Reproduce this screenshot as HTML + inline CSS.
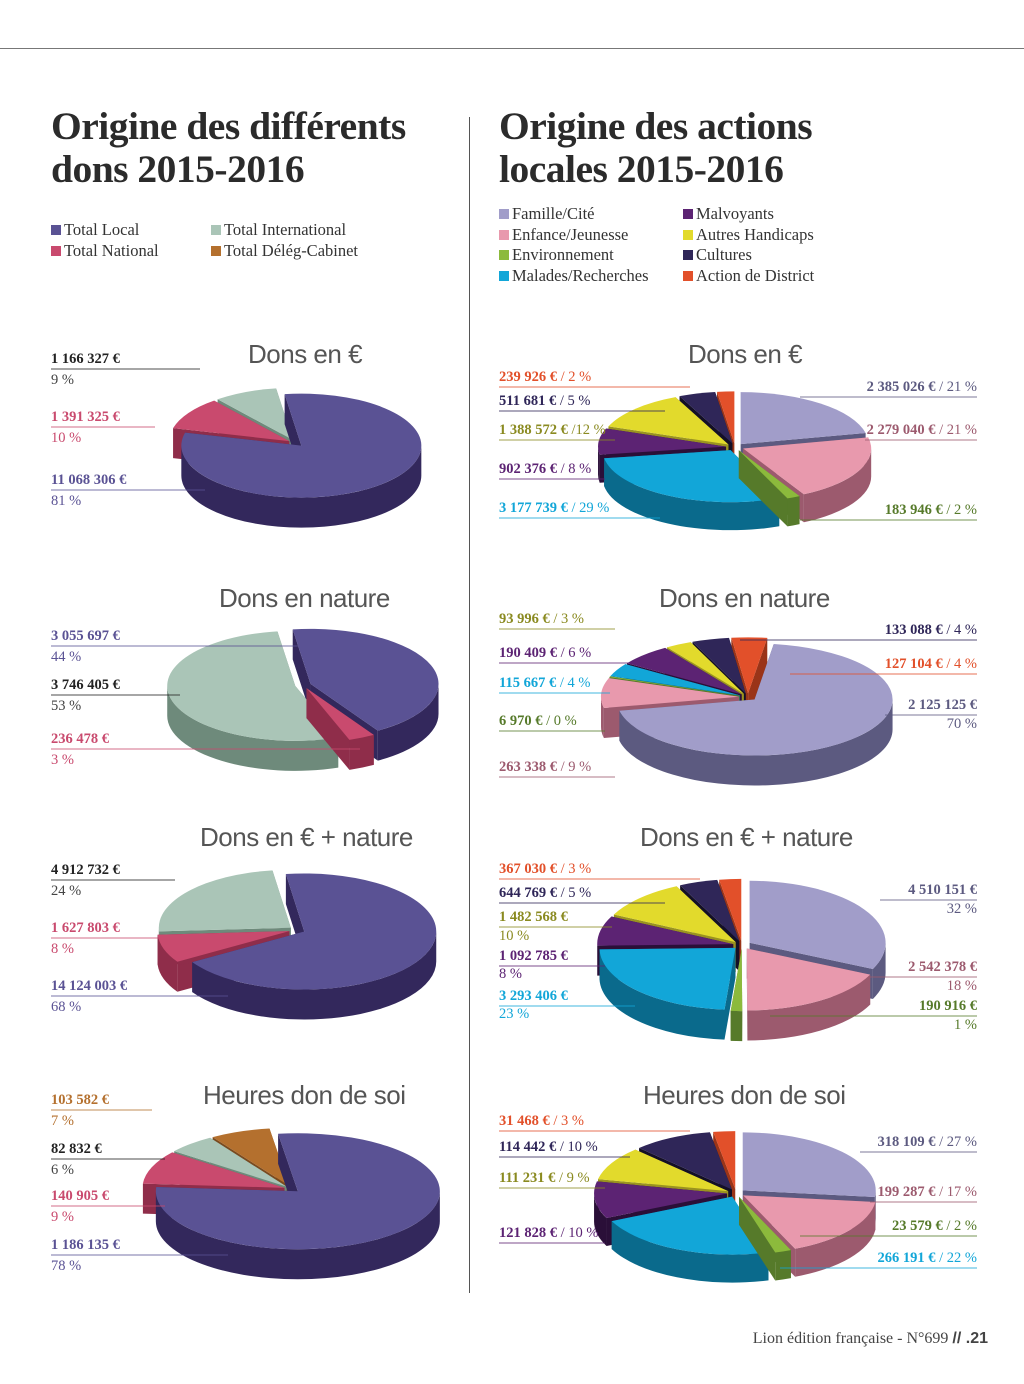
<!DOCTYPE html>
<html><head><meta charset="utf-8">
<style>
body{margin:0;background:#fff;}
#page{position:relative;width:1024px;height:1384px;overflow:hidden;background:#fff;font-family:"Liberation Serif",serif;}
.title{position:absolute;font-family:"Liberation Serif",serif;font-weight:bold;font-size:39.5px;line-height:43px;color:#2b2b2b;letter-spacing:-0.5px;white-space:nowrap;}
.ctitle{position:absolute;font-family:"Liberation Sans",sans-serif;font-size:26px;color:#555;white-space:nowrap;letter-spacing:-0.5px;}
.leg{position:absolute;font-size:16.5px;color:#333;white-space:nowrap;}
.leg i{display:inline-block;width:10px;height:10px;margin-right:3px;}
.lab{position:absolute;font-size:14.5px;white-space:nowrap;line-height:15px;}
.lab b{font-weight:bold;}
svg{position:absolute;left:0;top:0;}
</style></head>
<body>
<div id="page">
<div style="position:absolute;left:0;top:48px;width:1024px;height:1px;background:#777"></div>
<div style="position:absolute;left:469px;top:117px;width:1px;height:1176px;background:#555"></div>
<div class="title" style="left:51px;top:105px">Origine des différents<br>dons 2015-2016</div>
<div class="title" style="left:499px;top:105px">Origine des actions<br>locales 2015-2016</div>

<div class="leg" style="left:51px;top:220px"><i style="background:#5a5294"></i>Total Local</div>
<div class="leg" style="left:51px;top:241px"><i style="background:#c94a6e"></i>Total National</div>
<div class="leg" style="left:211px;top:220px"><i style="background:#aac5b7"></i>Total International</div>
<div class="leg" style="left:211px;top:241px"><i style="background:#b4702e"></i>Total Délég-Cabinet</div>

<div class="leg" style="left:499px;top:204px"><i style="background:#a19dc9"></i>Famille/Cité</div>
<div class="leg" style="left:499px;top:225px"><i style="background:#e899ad"></i>Enfance/Jeunesse</div>
<div class="leg" style="left:499px;top:245px"><i style="background:#8cba3c"></i>Environnement</div>
<div class="leg" style="left:499px;top:266px"><i style="background:#12a6d8"></i>Malades/Recherches</div>
<div class="leg" style="left:683px;top:204px"><i style="background:#5c2373"></i>Malvoyants</div>
<div class="leg" style="left:683px;top:225px"><i style="background:#e2da2c"></i>Autres Handicaps</div>
<div class="leg" style="left:683px;top:245px"><i style="background:#2f2658"></i>Cultures</div>
<div class="leg" style="left:683px;top:266px"><i style="background:#e2502a"></i>Action de District</div>

<div class="ctitle" style="left:248px;top:339px">Dons en €</div>
<div class="ctitle" style="left:219px;top:583px">Dons en nature</div>
<div class="ctitle" style="left:200px;top:822px">Dons en € + nature</div>
<div class="ctitle" style="left:203px;top:1080px">Heures don de soi</div>
<div class="ctitle" style="left:688px;top:339px">Dons en €</div>
<div class="ctitle" style="left:659px;top:583px">Dons en nature</div>
<div class="ctitle" style="left:640px;top:822px">Dons en € + nature</div>
<div class="ctitle" style="left:643px;top:1080px">Heures don de soi</div>

<svg id="pies" width="1024" height="1384"></svg>

<div style="position:absolute;right:36px;top:1330px;font-size:16px;color:#444;font-family:'Liberation Serif',serif">Lion édition française - N°699 <b style="font-family:'Liberation Sans',sans-serif">// .21</b></div>
</div>
<script>
// left-column categories: Local, National, International, Délég-Cabinet
const leftCats = ["Local","National","International","Deleg"];
const l1Values = [11068306, 1391325, 1166327, 0];
const l2Values = [3055697, 236478, 3746405, 0];
const l3Values = [14124003, 1627803, 4912732, 0];
const l4Values = [1186135, 140905, 82832, 103582];
// right-column categories (clockwise)
const rightCats = ["Famille","Enfance","Environnement","Malades","Malvoyants","Autres","Cultures","Action"];
const r1Values = [2385026, 2279040, 183946, 3177739, 902376, 1388572, 511681, 239926];
const r2Values = [2125125, 263338, 6970, 115667, 190409, 93996, 133088, 127104];
const r3Values = [4510151, 2542378, 190916, 3293406, 1092785, 1482568, 644769, 367030];
const r4Values = [318109, 199287, 23579, 266191, 121828, 111231, 114442, 31468];

const leftTop=["#5a5294","#c94a6e","#aac5b7","#b4702e"], leftSide=["#33285c","#8f2d4a","#6e8a7b","#7a4a1e"];
const rightTop=["#a19dc9","#e899ad","#8cba3c","#12a6d8","#5c2373","#e2da2c","#2f2658","#e2502a"];
const rightSide=["#5c5a80","#9c5a6e","#567a2a","#0a6a8c","#2a0f38","#9a9320","#141026","#9a3418"];

const NS="http://www.w3.org/2000/svg";
const svg=document.getElementById('pies');
function mk(tag,attrs){const e=document.createElementNS(NS,tag);for(const k in attrs)e.setAttribute(k,attrs[k]);return e;}

function pie(name,cats,vals,tops,sides,cx,cy,rx,ry,depth,start,explode){
  const g=mk('g',{});
  
  
  svg.appendChild(g);
  const total=vals.reduce((a,b)=>a+b,0);
  let a=start; const slices=[];
  vals.forEach((v,i)=>{ if(v<=0)return; const sw=v/total*360; slices.push({i,a0:a,a1:a+sw}); a+=sw; });
  slices.forEach(s=>{s.mid=(s.a0+s.a1)/2;});
  slices.sort((p,q)=>(-Math.cos(p.mid*Math.PI/180))-(-Math.cos(q.mid*Math.PI/180)));
  slices.forEach(s=>{
    const r=Math.PI/180, m=s.mid*r;
    const ox=cx+explode*Math.sin(m), oy=cy-explode*Math.cos(m)*ry/rx;
    const P=(ang,d)=>[ox+rx*Math.sin(ang*r), oy-ry*Math.cos(ang*r)+(d||0)];
    const sg=mk('g',{});
    
    
    g.appendChild(sg);
    [s.a0,s.a1].forEach(ang=>{
      const p=P(ang),q=P(ang,depth);
      sg.appendChild(mk('path',{d:`M${ox},${oy}L${p[0]},${p[1]}L${q[0]},${q[1]}L${ox},${oy+depth}Z`,fill:sides[s.i]}));
    });
    [[90,270],[450,630],[-270,-90]].forEach(([lo,hi])=>{
      const st=Math.max(lo,s.a0), en=Math.min(hi,s.a1);
      if(en-st<=0.01)return;
      const p1=P(st),p2=P(en),p3=P(en,depth),p4=P(st,depth);
      sg.appendChild(mk('path',{d:`M${p1[0]},${p1[1]}A${rx},${ry} 0 0 1 ${p2[0]},${p2[1]}L${p3[0]},${p3[1]}A${rx},${ry} 0 0 0 ${p4[0]},${p4[1]}Z`,fill:sides[s.i]}));
    });
    const p0=P(s.a0),p1=P(s.a1);
    const large=(s.a1-s.a0)>180?1:0;
    sg.appendChild(mk('path',{d:`M${ox},${oy}L${p0[0]},${p0[1]}A${rx},${ry} 0 ${large} 1 ${p1[0]},${p1[1]}Z`,fill:tops[s.i]}));
  });
}
pie('pie-l1',leftCats,l1Values,leftTop,leftSide,296,443,120,52,30,-8,8);
pie('pie-l2',leftCats,l2Values,leftTop,leftSide,303,685,128,55,30,-8,8);
pie('pie-l3',leftCats,l3Values,leftTop,leftSide,297,930,132,58,30,-8,8);
pie('pie-l4',leftCats,l4Values,leftTop,leftSide,292,1189,142,58,30,-8,8);
pie('pie-r1',rightCats,r1Values,rightTop,rightSide,735,447,128,52,28,0,9);
pie('pie-r2',rightCats,r2Values,rightTop,rightSide,748,697,138,56,30,8,9);
pie('pie-r3',rightCats,r3Values,rightTop,rightSide,742,945,136,62,30,0,9);
pie('pie-r4',rightCats,r4Values,rightTop,rightSide,736,1193,133,58,28,0,9);

const page=document.getElementById('page');
function lab(name,x,y,b,rest,color,lineTo,align){
  const d=document.createElement('div');
  d.className='lab';
  
  
  d.style.top=(y-12)+'px'; d.style.color=color;
  if(align==='r'){d.style.right=(1024-x)+'px';}else{d.style.left=x+'px';}
  d.innerHTML=(b?'<b>'+b+'</b>':'')+rest;
  page.appendChild(d);
  if(lineTo){
    svg.appendChild(mk('line',{x1:x,y1:y+5,x2:lineTo,y2:y+5,stroke:color,'stroke-width':1,opacity:0.8}));
  }
}
lab('label-l1-international',51,364,'1 166 327 €','','#222',200);lab('pct-l1-international',51,385,'','9 %','#444');
lab('label-l1-national',51,422,'1 391 325 €','','#c94a6e',155);lab('pct-l1-national',51,443,'','10 %','#c94a6e');
lab('label-l1-local',51,485,'11 068 306 €','','#5a5294',205);lab('pct-l1-local',51,506,'','81 %','#5a5294');
lab('label-l2-local',51,641,'3 055 697 €','','#5a5294',300);lab('pct-l2-local',51,662,'','44 %','#5a5294');
lab('label-l2-international',51,690,'3 746 405 €','','#222',180);lab('pct-l2-international',51,711,'','53 %','#444');
lab('label-l2-national',51,744,'236 478 €','','#c94a6e',360);lab('pct-l2-national',51,765,'','3 %','#c94a6e');
lab('label-l3-international',51,875,'4 912 732 €','','#222',175);lab('pct-l3-international',51,896,'','24 %','#444');
lab('label-l3-national',51,933,'1 627 803 €','','#c94a6e',160);lab('pct-l3-national',51,954,'','8 %','#c94a6e');
lab('label-l3-local',51,991,'14 124 003 €','','#5a5294',228);lab('pct-l3-local',51,1012,'','68 %','#5a5294');
lab('label-l4-deleg',51,1105,'103 582 €','','#b4702e',152);lab('pct-l4-deleg',51,1126,'','7 %','#b4702e');
lab('label-l4-international',51,1154,'82 832 €','','#222',165);lab('pct-l4-international',51,1175,'','6 %','#444');
lab('label-l4-national',51,1201,'140 905 €','','#c94a6e',165);lab('pct-l4-national',51,1222,'','9 %','#c94a6e');
lab('label-l4-local',51,1250,'1 186 135 €','','#5a5294',228);lab('pct-l4-local',51,1271,'','78 %','#5a5294');
lab('label-r1-action',499,382,'239 926 €',' / 2 %','#e2502a',690);
lab('label-r1-cultures',499,406,'511 681 €',' / 5 %','#2f2658',665);
lab('label-r1-autres',499,435,'1 388 572 €',' /12 %','#8a8a20',615);
lab('label-r1-malvoyants',499,474,'902 376 €',' / 8 %','#5c2373',605);
lab('label-r1-malades',499,513,'3 177 739 €',' / 29 %','#12a6d8',660);
lab('label-r2-autres',499,624,'93 996 €',' / 3 %','#8a8a20',615);
lab('label-r2-malvoyants',499,658,'190 409 €',' / 6 %','#5c2373',630);
lab('label-r2-malades',499,688,'115 667 €',' / 4 %','#12a6d8',610);
lab('label-r2-environnement',499,726,'6 970 €',' / 0 %','#567a2a',605);
lab('label-r2-enfance',499,772,'263 338 €',' / 9 %','#9c5a6e',615);
lab('label-r3-action',499,874,'367 030 €',' / 3 %','#e2502a',700);
lab('label-r3-cultures',499,898,'644 769 €',' / 5 %','#2f2658',665);
lab('label-r3-autres',499,922,'1 482 568 €','','#8a8a20',612);lab('pct-r3-autres',499,941,'','10 %','#8a8a20');
lab('label-r3-malvoyants',499,961,'1 092 785 €','','#5c2373',605);lab('pct-r3-malvoyants',499,979,'','8 %','#5c2373');
lab('label-r3-malades',499,1001,'3 293 406 €','','#12a6d8',635);lab('pct-r3-malades',499,1019,'','23 %','#12a6d8');
lab('label-r4-action',499,1126,'31 468 €',' / 3 %','#e2502a',690);
lab('label-r4-cultures',499,1152,'114 442 €',' / 10 %','#2f2658',630);
lab('label-r4-autres',499,1183,'111 231 €',' / 9 %','#8a8a20',605);
lab('label-r4-malvoyants',499,1238,'121 828 €',' / 10 %','#5c2373',605);
function rlab(name,y,b,rest,color,from,pct){
  lab(name,977,y,b,rest,color,null,'r');
  svg.appendChild(mk('line',{x1:from,y1:y+5,x2:977,y2:y+5,stroke:color,'stroke-width':1,opacity:0.8}));
  if(pct)lab(name+'-pct',977,y+19,'',pct,color,null,'r');
}
rlab('label-r1-famille',392,'2 385 026 €',' / 21 %','#5c5a80',800);
rlab('label-r1-enfance',435,'2 279 040 €',' / 21 %','#9c5a6e',865);
rlab('label-r1-environnement',515,'183 946 €',' / 2 %','#567a2a',800);
rlab('label-r2-cultures',635,'133 088 €',' / 4 %','#2f2658',740);
rlab('label-r2-action',669,'127 104 €',' / 4 %','#e2502a',790);
rlab('label-r2-famille',710,'2 125 125 €','','#5c5a80',885,'70 %');
rlab('label-r3-famille',895,'4 510 151 €','','#5c5a80',880,'32 %');
rlab('label-r3-enfance',972,'2 542 378 €','','#9c5a6e',870,'18 %');
rlab('label-r3-environnement',1011,'190 916 €','','#567a2a',770,'1 %');
rlab('label-r4-famille',1147,'318 109 €',' / 27 %','#5c5a80',860);
rlab('label-r4-enfance',1197,'199 287 €',' / 17 %','#9c5a6e',870);
rlab('label-r4-environnement',1231,'23 579 €',' / 2 %','#567a2a',800);
rlab('label-r4-malades',1263,'266 191 €',' / 22 %','#12a6d8',780);
</script>
</body></html>
